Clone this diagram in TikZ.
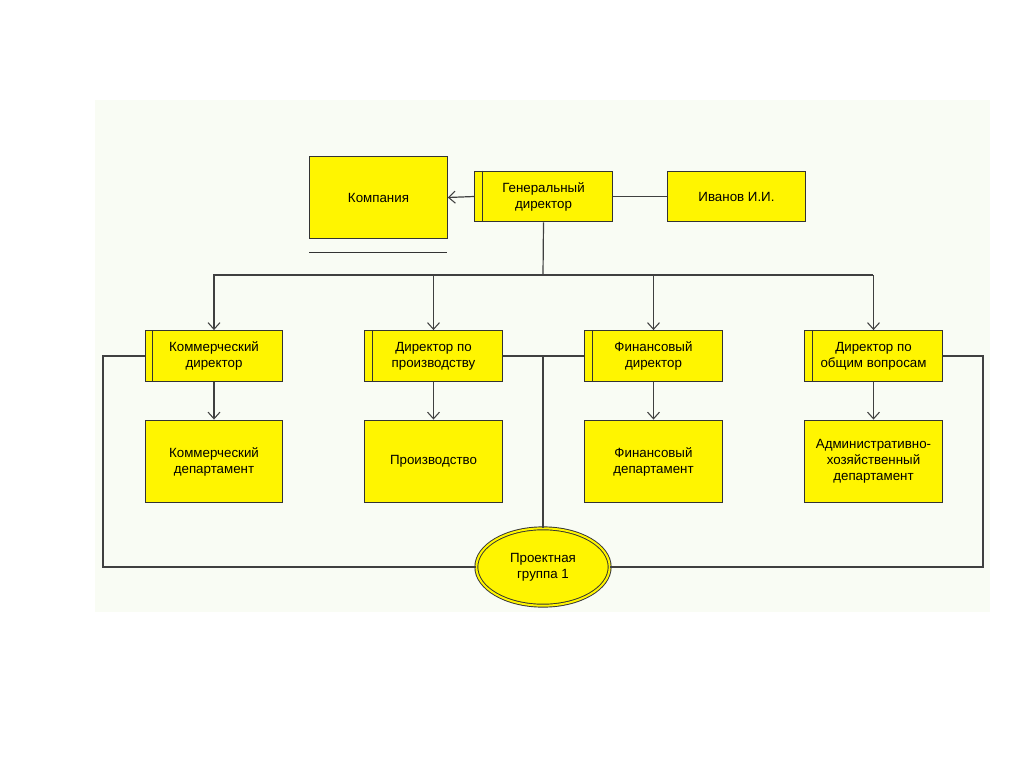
\documentclass[tikz,border=0pt]{standalone}
\usepackage{fontspec}
\setmainfont{Liberation Sans}
\usetikzlibrary{arrows.meta,shapes.geometric}
\definecolor{yel}{RGB}{255,245,0}
\definecolor{bg}{RGB}{249,252,244}
\tikzset{
 box/.style={draw=black!80,fill=yel,line width=0.9pt,minimum width=103pt,minimum height=38pt,inner sep=0pt,align=center,font=\fontsize{10}{12}\selectfont},
 tall/.style={box,minimum height=62pt},
 conn/.style={draw=black!75,line width=0.9pt},
 arr/.style={conn,-{Straight Barb[length=5pt,width=9pt,line width=0.8pt]}},
}
\begin{document}
\begin{tikzpicture}[x=0.75pt,y=-0.75pt]
\useasboundingbox (0,0) rectangle (1024,768);
\fill[bg] (95,100) rectangle (990,612);
\node[box,minimum height=62pt] (komp) at (378.5,197.5) {Компания};
\draw[black!80,line width=0.9pt] (komp.south west)++(0,-9.75pt) -- ++(103pt,0);
\node[box] (gen) at (543.5,196.5) {Генеральный\\директор};
\node[box] (ivan) at (736.5,196.5) {Иванов И.И.};
\node[box] (kd) at (214,356) {Коммерческий\\директор};
\node[box] (pd) at (433.5,356) {Директор по\\производству};
\node[box] (fd) at (653.5,356) {Финансовый\\директор};
\node[box] (od) at (873.5,356) {Директор по\\общим вопросам};
\foreach \n in {gen,kd,pd,fd,od}{
 \draw[black!80,line width=0.9pt] ([xshift=6pt]\n.north west) -- ([xshift=6pt]\n.south west);}
\node[tall] (kdep) at (214,461.5) {Коммерческий\\департамент};
\node[tall] (prod) at (433.5,461.5) {Производство};
\node[tall] (fdep) at (653.5,461.5) {Финансовый\\департамент};
\node[tall] (adep) at (873.5,461.5) {Административно-\\хозяйственный\\департамент};
\node[ellipse,draw=black!80,double=yel,double distance=1.5pt,fill=yel,line width=0.7pt,minimum width=100pt,minimum height=58pt,inner sep=0pt,align=center,font=\fontsize{10}{12}\selectfont] (pg) at (543,567) {Проектная\\группа 1};
\coordinate (bus) at (543,275);
\draw[arr] (gen.west) -- (komp.east);
\draw[conn] (gen.east) -- (ivan.west);
\draw[conn] (gen.south) -- (bus);
\draw[conn] (213,275) -- (873,275);
\foreach \a/\b in {kd/kdep,pd/prod,fd/fdep,od/adep}{
 \draw[arr] (\a.north |- bus) -- (\a.north);
 \draw[arr] (\a.south) -- (\b.north);}
\draw[conn] (pd.east) -- (fd.west);
\draw[conn] (543,356) -- (pg.north);
\draw[conn] (kd.west) -- (103,356) -- (103,567) -- (pg.west);
\draw[conn] (od.east) -- (983,356) -- (983,567) -- (pg.east);
\end{tikzpicture}
\end{document}
